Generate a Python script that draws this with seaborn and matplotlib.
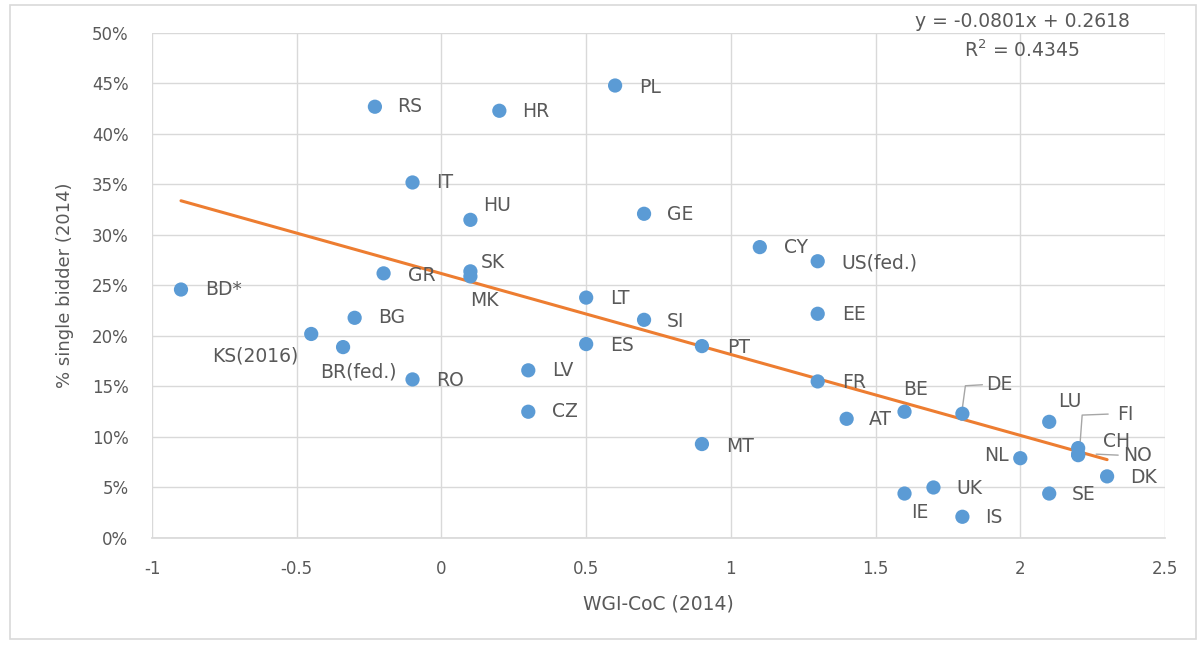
import numpy as np
import pandas as pd
import seaborn as sns
import matplotlib.pyplot as plt
from matplotlib.patches import Rectangle
from matplotlib.ticker import PercentFormatter, MultipleLocator, FuncFormatter

# data
countries = ['BD*', 'KS(2016)', 'BR(fed.)', 'RS', 'GR', 'BG', 'IT', 'RO', 'HU', 'SK', 'MK',
             'HR', 'LV', 'CZ', 'LT', 'ES', 'PL', 'GE', 'SI', 'PT', 'MT', 'CY', 'US(fed.)',
             'EE', 'FR', 'AT', 'BE', 'IE', 'UK', 'DE', 'IS', 'NL', 'LU', 'SE', 'FI', 'CH',
             'NO', 'DK']
wgi_coc = [-0.9, -0.45, -0.34, -0.23, -0.2, -0.3, -0.1, -0.1, 0.1, 0.1, 0.1,
           0.2, 0.3, 0.3, 0.5, 0.5, 0.6, 0.7, 0.7, 0.9, 0.9, 1.1, 1.3,
           1.3, 1.3, 1.4, 1.6, 1.6, 1.7, 1.8, 1.8, 2.0, 2.1, 2.1, 2.2, 2.2,
           2.2, 2.3]
single_bidder = [0.246, 0.202, 0.189, 0.427, 0.262, 0.218, 0.352, 0.157, 0.315, 0.264, 0.259,
                 0.423, 0.166, 0.125, 0.238, 0.192, 0.448, 0.321, 0.216, 0.190, 0.093, 0.288, 0.274,
                 0.222, 0.155, 0.118, 0.125, 0.044, 0.050, 0.123, 0.021, 0.079, 0.115, 0.044, 0.089, 0.082,
                 0.083, 0.061]
slope = -0.0801
intercept = 0.2618
r2 = 0.4345

df = pd.DataFrame({'country': countries, 'x': wgi_coc, 'y': single_bidder})

# label placement (pixel offsets from the point, alignment)
offsets = {
    'BD*': (24, 0, 'left'), 'KS(2016)': (-13, -22, 'right'), 'BR(fed.)': (15, -25, 'center'),
    'RS': (22, 0, 'left'), 'GR': (24, -2, 'left'), 'BG': (23, 0, 'left'), 'IT': (24, 0, 'left'),
    'RO': (24, -1, 'left'), 'HU': (13, 14, 'left'), 'SK': (10, 9, 'left'), 'MK': (0, -24, 'left'),
    'HR': (23, -1, 'left'), 'LV': (24, 0, 'left'), 'CZ': (24, 0, 'left'), 'LT': (24, -1, 'left'),
    'ES': (24, -1, 'left'), 'PL': (24, -2, 'left'), 'GE': (23, -1, 'left'), 'SI': (23, -2, 'left'),
    'PT': (25, -1, 'left'), 'MT': (24, -2, 'left'), 'CY': (24, 0, 'left'), 'US(fed.)': (24, -2, 'left'),
    'EE': (24, -1, 'left'), 'FR': (24, -1, 'left'), 'AT': (22, -1, 'left'), 'BE': (-1, 22, 'left'),
    'IE': (7, -19, 'left'), 'UK': (23, -1, 'left'), 'DE': (24, 29, 'left'), 'IS': (23, -1, 'left'),
    'NL': (-12, 3, 'right'), 'LU': (9, 20, 'left'), 'SE': (23, -1, 'left'), 'FI': (39, 34, 'left'),
    'CH': (25, 14, 'left'), 'NO': (45, -1, 'left'), 'DK': (23, -1, 'left'),
}
# grey leader lines, pixel offsets from the point
leaders = {'DE': [(0, 6), (3, 28), (20, 29)], 'FI': [(2, 6), (4, 33), (30, 34)],
           'NO': [(18, 0), (40, -1)]}

grey = '#595959'
sns.set_theme(style='white')
plt.rcParams['font.family'] = ['DejaVu Sans']

fig = plt.figure(figsize=(12.03, 6.47), dpi=100)
ax = fig.add_axes([0.1264, 0.1685, 0.842, 0.7805])
fig.patches.append(Rectangle((0.008, 0.012), 0.986, 0.98, transform=fig.transFigure,
                             fill=False, edgecolor='#d9d9d9', lw=1.2))

ax.set_xlim(-1, 2.5)
ax.set_ylim(0, 0.5)

xs = np.array([min(wgi_coc), max(wgi_coc)])
sns.lineplot(x=xs, y=slope * xs + intercept, ax=ax, color='#ed7d31', lw=2.2, zorder=2)
sns.scatterplot(data=df, x='x', y='y', ax=ax, color='#5b9bd5', s=105, edgecolor='none', zorder=3)

inv = ax.transData.inverted()
for c, xv, yv in zip(countries, wgi_coc, single_bidder):
    dx, dy, ha = offsets[c]
    ax.annotate(c, (xv, yv), xytext=(dx * 0.72, dy * 0.72), textcoords='offset points',
                ha=ha, va='center', fontsize=13.5, color=grey, zorder=4)
    if c in leaders:
        px, py = ax.transData.transform((xv, yv))
        pts = np.array([(px + a, py + b) for a, b in leaders[c]])
        dpts = inv.transform(pts)
        ax.plot(dpts[:, 0], dpts[:, 1], color='#a6a6a6', lw=1, zorder=2)

ax.xaxis.set_major_locator(MultipleLocator(0.5))
ax.xaxis.set_major_formatter(FuncFormatter(lambda v, p: '%g' % v))
ax.yaxis.set_major_locator(MultipleLocator(0.05))
ax.yaxis.set_major_formatter(PercentFormatter(1.0, decimals=0))
ax.grid(True, color='#d9d9d9', lw=1)
for s in ['top', 'right', 'left']:
    ax.spines[s].set_visible(False)
ax.spines['bottom'].set_color('#d9d9d9')
ax.tick_params(axis='both', labelsize=12, colors=grey, length=0)
ax.tick_params(axis='x', pad=16)
ax.tick_params(axis='y', pad=17)
ax.set_xlabel('WGI-CoC (2014)', fontsize=13.5, color=grey, labelpad=12)
ax.set_ylabel('% single bidder (2014)', fontsize=13, color=grey, labelpad=13)

fig.text(0.85, 0.966, 'y = -0.0801x + 0.2618', ha='center', va='center', fontsize=13.5, color=grey)
fig.text(0.849, 0.923, 'R$^2$ = %.4f' % r2, ha='center', va='center', fontsize=13.5, color=grey)

fig.savefig('out.png', dpi=100)
